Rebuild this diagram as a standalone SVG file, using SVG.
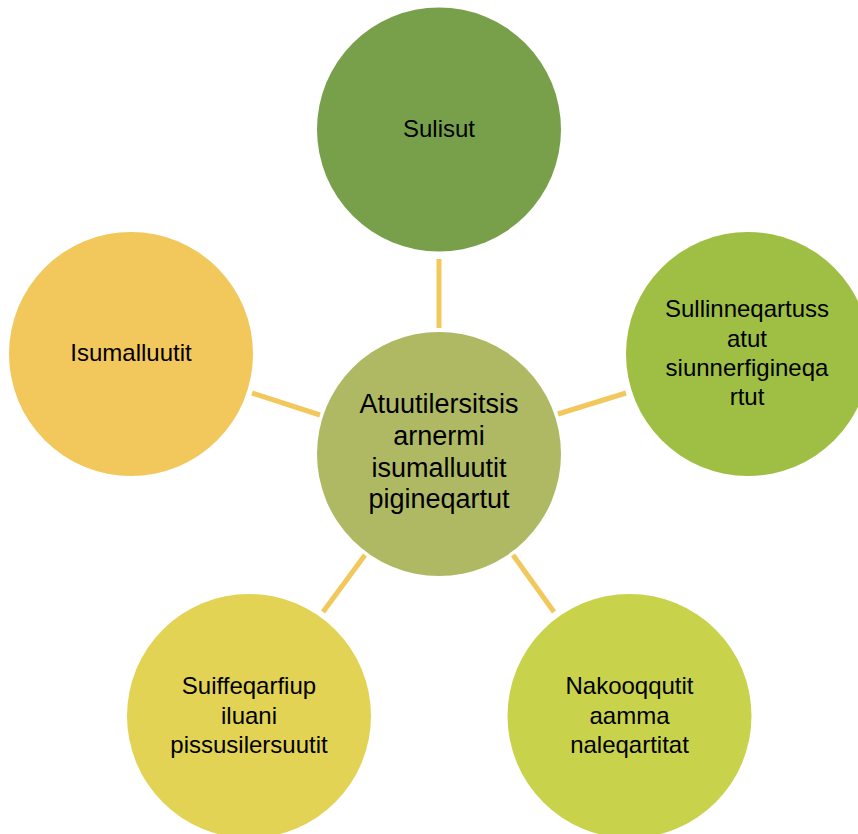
<svg xmlns="http://www.w3.org/2000/svg" width="858" height="834" viewBox="0 0 858 834">
<style>
.t{font-family:"Liberation Sans",Arial,sans-serif;font-size:24px;fill:#000;text-anchor:middle}
.c{font-size:27px}
.ln{stroke:#F2C75C;stroke-width:5;fill:none}
</style>
<rect width="858" height="834" fill="#fff"/>
<g id="connectors">
<line class="ln" x1="439" y1="259" x2="439" y2="328"/>
<line class="ln" x1="252" y1="393" x2="320" y2="415"/>
<line class="ln" x1="558" y1="414" x2="626" y2="393"/>
<line class="ln" x1="365" y1="555" x2="323" y2="612"/>
<line class="ln" x1="513" y1="555" x2="554" y2="612"/>
</g>
<g id="node-top">
<circle cx="439" cy="129.5" r="122" fill="#78A04A"/>
<text class="t" x="439" y="137">Sulisut</text>
</g>
<g id="node-right">
<circle cx="748" cy="354" r="122" fill="#9EBF44"/>
<text class="t" x="747" y="317">Sullinneqartuss</text>
<text class="t" x="747" y="347">atut</text>
<text class="t" x="747" y="376">siunnerfigineqa</text>
<text class="t" x="747" y="405">rtut</text>
</g>
<g id="node-left">
<circle cx="131" cy="354" r="122" fill="#F2C75C"/>
<text class="t" x="131" y="361">Isumalluutit</text>
</g>
<g id="node-bottom-left">
<circle cx="249" cy="716" r="122" fill="#E2D354"/>
<text class="t" x="249" y="694">Suiffeqarfiup</text>
<text class="t" x="249" y="724">iluani</text>
<text class="t" x="249" y="753">pissusilersuutit</text>
</g>
<g id="node-bottom-right">
<circle cx="629.5" cy="716" r="122" fill="#C8D24A"/>
<text class="t" x="629.5" y="694">Nakooqqutit</text>
<text class="t" x="629.5" y="724">aamma</text>
<text class="t" x="629.5" y="753">naleqartitat</text>
</g>
<g id="node-center">
<circle cx="439" cy="454" r="122" fill="#AFB964"/>
<text class="t c" x="439" y="413">Atuutilersitsis</text>
<text class="t c" x="439" y="445">arnermi</text>
<text class="t c" x="439" y="477">isumalluutit</text>
<text class="t c" x="439" y="508">pigineqartut</text>
</g>
</svg>
